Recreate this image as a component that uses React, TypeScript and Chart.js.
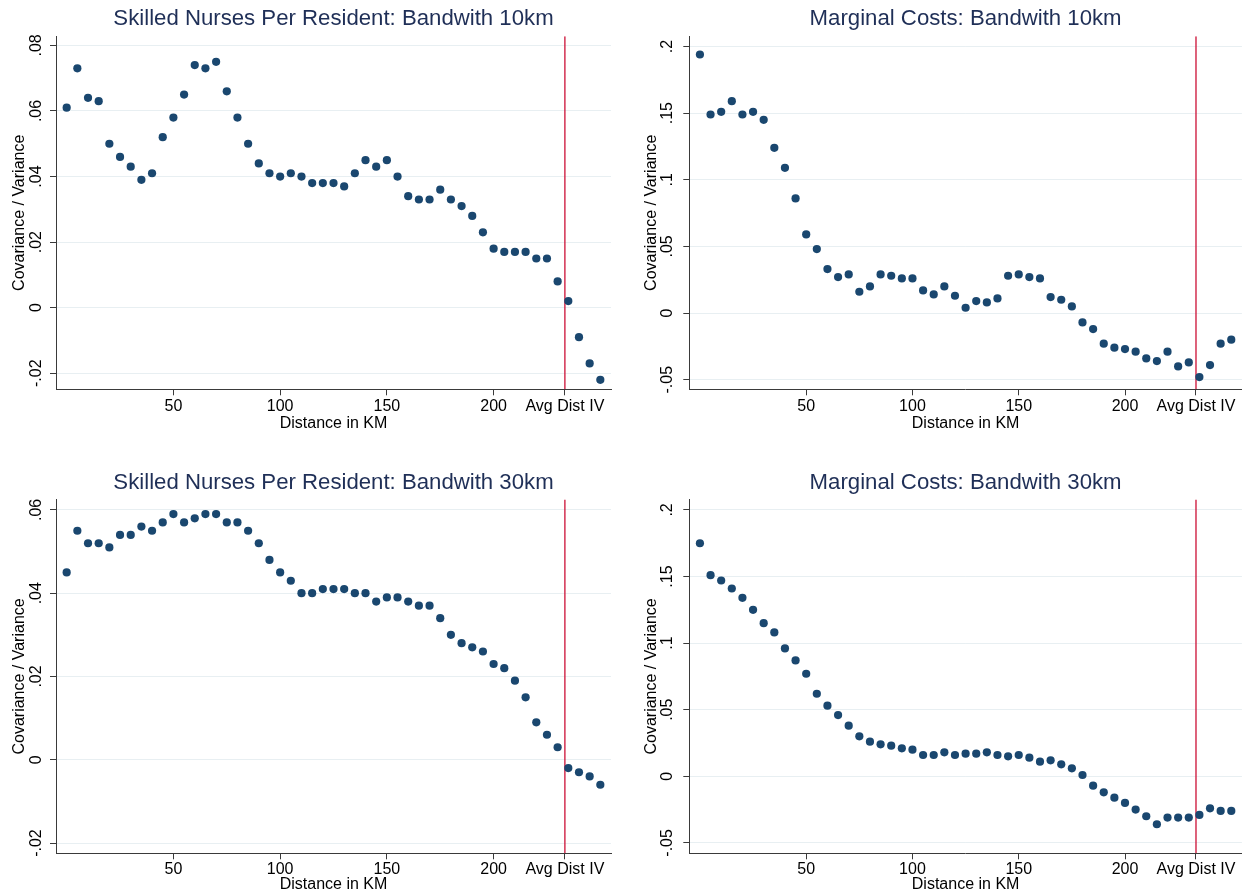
import React, { useEffect, useRef } from "react";
import { Chart, registerables } from "chart.js";

Chart.register(...registerables);

// ---------- data ----------
const distanceKm = [
  0, 5, 10, 15, 20, 25, 30, 35, 40, 45, 50, 55, 60, 65, 70, 75, 80, 85, 90, 95,
  100, 105, 110, 115, 120, 125, 130, 135, 140, 145, 150, 155, 160, 165, 170, 175,
  180, 185, 190, 195, 200, 205, 210, 215, 220, 225, 230, 235, 240, 245, 250,
];

const nurses10km = [
  0.061, 0.073, 0.064, 0.063, 0.05, 0.046, 0.043, 0.039, 0.041, 0.052,
  0.058, 0.065, 0.074, 0.073, 0.075, 0.066, 0.058, 0.05, 0.044, 0.041,
  0.04, 0.041, 0.04, 0.038, 0.038, 0.038, 0.037, 0.041, 0.045, 0.043,
  0.045, 0.04, 0.034, 0.033, 0.033, 0.036, 0.033, 0.031, 0.028, 0.023,
  0.018, 0.017, 0.017, 0.017, 0.015, 0.015, 0.008, 0.002, -0.009, -0.017,
  -0.022,
];

const costs10km = [
  0.194, 0.149, 0.151, 0.159, 0.149, 0.151, 0.145, 0.124, 0.109, 0.086,
  0.059, 0.048, 0.033, 0.027, 0.029, 0.016, 0.02, 0.029, 0.028, 0.026,
  0.026, 0.017, 0.014, 0.02, 0.013, 0.004, 0.009, 0.008, 0.011, 0.028,
  0.029, 0.027, 0.026, 0.012, 0.01, 0.005, -0.007, -0.012, -0.023, -0.026,
  -0.027, -0.029, -0.034, -0.036, -0.029, -0.04, -0.037, -0.048, -0.039, -0.023,
  -0.02,
];

const nurses30km = [
  0.045, 0.055, 0.052, 0.052, 0.051, 0.054, 0.054, 0.056, 0.055, 0.057,
  0.059, 0.057, 0.058, 0.059, 0.059, 0.057, 0.057, 0.055, 0.052, 0.048,
  0.045, 0.043, 0.04, 0.04, 0.041, 0.041, 0.041, 0.04, 0.04, 0.038,
  0.039, 0.039, 0.038, 0.037, 0.037, 0.034, 0.03, 0.028, 0.027, 0.026,
  0.023, 0.022, 0.019, 0.015, 0.009, 0.006, 0.003, -0.002, -0.003, -0.004,
  -0.006,
];

const costs30km = [
  0.175, 0.151, 0.147, 0.141, 0.134, 0.125, 0.115, 0.108, 0.096, 0.087,
  0.077, 0.062, 0.053, 0.046, 0.038, 0.03, 0.026, 0.024, 0.023, 0.021,
  0.02, 0.016, 0.016, 0.018, 0.016, 0.017, 0.017, 0.018, 0.016, 0.015,
  0.016, 0.014, 0.011, 0.012, 0.009, 0.006, 0.001, -0.007, -0.012, -0.016,
  -0.02, -0.025, -0.03, -0.036, -0.031, -0.031, -0.031, -0.029, -0.024, -0.026,
  -0.026,
];

const xTickValues = [50, 100, 150, 200];
const avgDistIV = 233.4;
const avgDistLabel = "Avg Dist IV";
const nursesTicks10 = [-0.02, 0, 0.02, 0.04, 0.06, 0.08];
const nursesTicks30 = [-0.02, 0, 0.02, 0.04, 0.06];
const costsTicks = [-0.05, 0, 0.05, 0.1, 0.15, 0.2];

const xTitle = "Distance in KM";
const yTitle = "Covariance / Variance";

// ---------- styling ----------
const FONT = "'Liberation Sans', Arial, Helvetica, sans-serif";
const DOT = "#1a476f";
const RED = "#cc0f35";
const AXIS = "#3a3a3a";
const GRID = "#e8eff2";
const TITLE = "#1f2f57";

type PanelCfg = {
  title: string;
  values: number[];
  yTicks: number[];
  yMin: number;
  yMax: number;
  x: number;
  y: number;
  area: { l: number; t: number; r: number; b: number };
  titlePT: number;
  titlePB: number;
  yLabelPad: number;
  yTitlePad: number;
  xLabelPad: number;
  xScaleH: number;
};

const W = 623;
const H = 448;

const panels: PanelCfg[] = [
  {
    title: "Skilled Nurses Per Resident: Bandwith 10km",
    values: nurses10km,
    yTicks: nursesTicks10,
    yMin: -0.0249,
    yMax: 0.0828,
    x: 0,
    y: 0,
    area: { l: 56, t: 36, r: 611, b: 389.3 },
    titlePT: 5.2,
    titlePB: 4.4,
    yLabelPad: 0,
    yTitlePad: 9.9,
    xLabelPad: 1.3,
    xScaleH: 43.8,
  },
  {
    title: "Marginal Costs: Bandwith 10km",
    values: costs10km,
    yTicks: costsTicks,
    yMin: -0.0572,
    yMax: 0.2077,
    x: 623,
    y: 0,
    area: { l: 66.3, t: 36, r: 621, b: 389.3 },
    titlePT: 5.2,
    titlePB: 4.4,
    yLabelPad: 1.5,
    yTitlePad: 19.2,
    xLabelPad: 1.3,
    xScaleH: 43.8,
  },
  {
    title: "Skilled Nurses Per Resident: Bandwith 30km",
    values: nurses30km,
    yTicks: nursesTicks30,
    yMin: -0.02247,
    yMax: 0.0625,
    x: 0,
    y: 448,
    area: { l: 56, t: 51.3, r: 611, b: 405.3 },
    titlePT: 21.2,
    titlePB: 3.7,
    yLabelPad: 0,
    yTitlePad: 9.9,
    xLabelPad: 0.6,
    xScaleH: 40.8,
  },
  {
    title: "Marginal Costs: Bandwith 30km",
    values: costs30km,
    yTicks: costsTicks,
    yMin: -0.0578,
    yMax: 0.2078,
    x: 623,
    y: 448,
    area: { l: 66.3, t: 51.3, r: 621, b: 405.3 },
    titlePT: 21.2,
    titlePB: 3.7,
    yLabelPad: 1.5,
    yTitlePad: 19.2,
    xLabelPad: 0.6,
    xScaleH: 40.8,
  },
];

const stataFmt = (v: number) => {
  if (Math.abs(v) < 1e-9) return "0";
  const s = String(Math.round(v * 1000) / 1000);
  return s.replace(/^(-?)0\./, "$1.");
};

function Panel({ cfg }: { cfg: PanelCfg }) {
  const ref = useRef<HTMLCanvasElement | null>(null);

  useEffect(() => {
    if (!ref.current) return;
    const { area } = cfg;
    const xTicksAll = [...xTickValues, avgDistIV];
    const chart = new Chart(ref.current, {
      type: "scatter",
      data: {
        datasets: [
          {
            data: distanceKm.map((d, i) => ({ x: d, y: cfg.values[i] })),
            backgroundColor: DOT,
            borderColor: DOT,
            borderWidth: 0,
            pointRadius: 4.1,
            pointHoverRadius: 4.1,
          },
          {
            data: [
              { x: avgDistIV, y: cfg.yMin },
              { x: avgDistIV, y: cfg.yMax },
            ],
            showLine: true,
            borderColor: RED,
            borderWidth: 1.3,
            pointRadius: 0,
            fill: false,
          } as any,
        ],
      },
      options: {
        animation: false,
        responsive: false,
        devicePixelRatio: 1,
        events: [],
        layout: {
          padding: {
            left: 0,
            top: 0,
            right: W - area.r,
            bottom: H - area.b - cfg.xScaleH,
          },
        },
        plugins: {
          legend: { display: false },
          tooltip: { enabled: false },
          title: {
            display: true,
            text: cfg.title,
            color: TITLE,
            fullSize: false,
            font: { family: FONT, size: 22.2, weight: "normal" as any, lineHeight: 1.2 },
            padding: { top: cfg.titlePT, bottom: cfg.titlePB },
          },
        },
        scales: {
          x: {
            type: "linear",
            min: -5,
            max: 255,
            afterBuildTicks: (s: any) => {
              s.ticks = xTicksAll.map((v) => ({ value: v }));
            },
            afterFit: (s: any) => {
              s.height = cfg.xScaleH;
            },
            ticks: {
              autoSkip: false,
              maxRotation: 0,
              minRotation: 0,
              padding: cfg.xLabelPad,
              color: "#000",
              font: { family: FONT, size: 16 },
              callback: (v: any) => (Math.abs(Number(v) - avgDistIV) < 1e-6 ? avgDistLabel : String(v)),
            },
            grid: {
              display: true,
              drawOnChartArea: false,
              drawTicks: true,
              tickLength: 6,
              tickColor: AXIS,
              tickWidth: 1,
            },
            border: { display: true, color: AXIS, width: 1 },
            title: {
              display: true,
              text: xTitle,
              color: "#000",
              font: { family: FONT, size: 16 },
              padding: { top: 0, bottom: 0 },
            },
          },
          y: {
            type: "linear",
            min: cfg.yMin,
            max: cfg.yMax,
            afterBuildTicks: (s: any) => {
              s.ticks = cfg.yTicks.map((v) => ({ value: v }));
            },
            afterFit: (s: any) => {
              s.width = area.l;
            },
            ticks: {
              autoSkip: false,
              minRotation: 90,
              maxRotation: 90,
              crossAlign: "center",
              padding: cfg.yLabelPad,
              color: "#000",
              font: { family: FONT, size: 16 },
              callback: (v: any) => stataFmt(Number(v)),
            },
            grid: {
              display: true,
              color: GRID,
              lineWidth: 1,
              drawOnChartArea: true,
              drawTicks: true,
              tickLength: 6,
              tickColor: AXIS,
              tickWidth: 1,
            },
            border: { display: true, color: AXIS, width: 1 },
            title: {
              display: true,
              text: yTitle,
              color: "#000",
              font: { family: FONT, size: 16 },
              padding: { top: cfg.yTitlePad, bottom: 0 },
            },
          },
        },
      } as any,
    });
    return () => chart.destroy();
  }, [cfg]);

  return (
    <canvas
      ref={ref}
      width={W}
      height={H}
      style={{ position: "absolute", left: cfg.x, top: cfg.y, width: W, height: H }}
    />
  );
}

export default function App() {
  return (
    <div
      style={{
        position: "absolute",
        left: 0,
        top: 0,
        width: 1246,
        height: 896,
        background: "#ffffff",
        overflow: "hidden",
      }}
    >
      {panels.map((p, i) => (
        <Panel key={i} cfg={p} />
      ))}
    </div>
  );
}
